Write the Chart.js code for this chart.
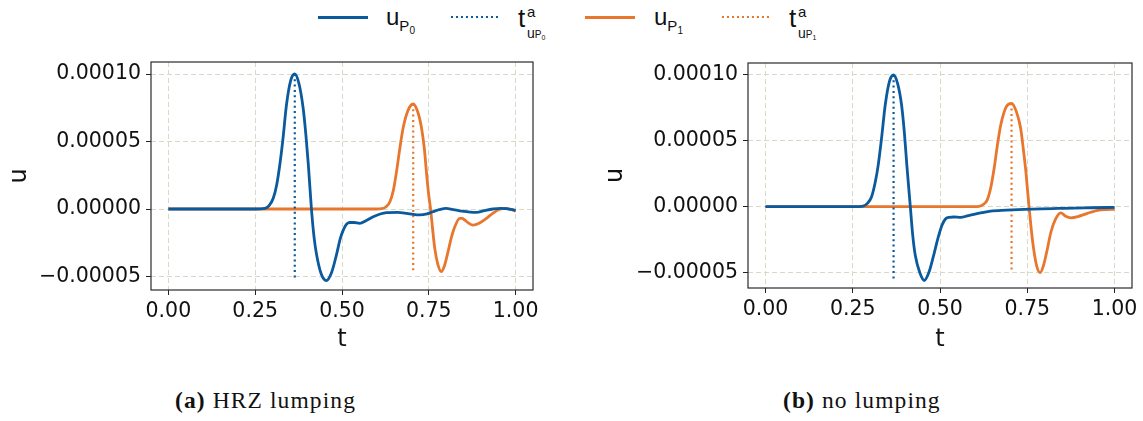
<!DOCTYPE html>
<html lang="en">
<head>
	<meta charset="utf-8">
	<title></title>
	<style>
body {
	margin: 0;
	width: 1143px;
	height: 421px;
	background: #fff;
	position: relative;
	overflow: hidden;
}
canvas { position: absolute; top: 0; }
#chartA { left: 0; }
#chartB { left: 590px; }
.key { position: absolute; top: 16px; width: 50px; height: 3px; }
.lbl { position: absolute; font-family: "Liberation Sans", sans-serif; color: #111; line-height: 1; white-space: nowrap; }
.big { font-size: 24px; }
.s1 { font-size: 15px; }
.s2 { font-size: 10px; }
.cap { position: absolute; top: 387px; font-family: "Liberation Serif", serif; font-size: 23.5px; letter-spacing: 1.1px; color: #111; white-space: nowrap; }
	</style>
</head>
<body>

<div class="key" style="left:318px; background:#0b5a9e"></div>
<div class="lbl" style="left:386px; top:5px"><span class="big">u</span><span class="s1" style="position:relative; top:6px">P</span><span class="s2" style="position:relative; top:9px">0</span></div>

<div class="key" style="left:451px; height:2px; background:repeating-linear-gradient(to right,#0b5a9e 0 2px,transparent 2px 5px)"></div>
<div class="lbl" style="left:518px; top:5px"><span style="font-size:26px">t</span></div>
<div class="lbl" style="left:527px; top:4px"><span class="s1">a</span></div>
<div class="lbl" style="left:527px; top:25px"><span style="font-size:14px">u</span><span class="s2">P</span><span style="font-size:7px; position:relative; top:2px">0</span></div>

<div class="key" style="left:585px; background:#e8762c"></div>
<div class="lbl" style="left:654px; top:5px"><span class="big">u</span><span class="s1" style="position:relative; top:6px">P</span><span class="s2" style="position:relative; top:9px">1</span></div>

<div class="key" style="left:722px; height:2px; background:repeating-linear-gradient(to right,#e8762c 0 2px,transparent 2px 5px)"></div>
<div class="lbl" style="left:789px; top:5px"><span style="font-size:26px">t</span></div>
<div class="lbl" style="left:798px; top:4px"><span class="s1">a</span></div>
<div class="lbl" style="left:798px; top:25px"><span style="font-size:14px">u</span><span class="s2">P</span><span style="font-size:7px; position:relative; top:2px">1</span></div>

<canvas id="chartA" width="560" height="360"></canvas>
<canvas id="chartB" width="553" height="360"></canvas>

<div class="cap" style="left:175px"><b>(a)</b> HRZ lumping</div>
<div class="cap" style="left:783px"><b>(b)</b> no lumping</div>

<script src="https://cdn.jsdelivr.net/npm/chart.js"></script>
<script>
// values of u are in units of 1e-5
const xTicks = [0, 0.25, 0.5, 0.75, 1];
const yTicks = [-5, 0, 5, 10];

// (a) HRZ lumping
const tA0 = [0, 0.1, 0.2, 0.25, 0.278, 0.29, 0.302, 0.312, 0.321, 0.33, 0.34, 0.352, 0.364, 0.376, 0.388, 0.396, 0.403, 0.412, 0.42, 0.427, 0.44, 0.455, 0.47, 0.484, 0.495, 0.503, 0.512, 0.522, 0.535, 0.551, 0.57, 0.59, 0.61, 0.628, 0.66, 0.686, 0.705, 0.724, 0.745, 0.762, 0.78, 0.8, 0.82, 0.839, 0.86, 0.887, 0.91, 0.935, 0.955, 0.973, 1.0];
const uA0 = [0, 0, 0, 0, 0.05, 0.25, 0.8, 1.8, 3.3, 5.2, 7.7, 9.5, 10.0, 9.3, 7.5, 5.5, 3.3, 0, -2.2, -3.4, -4.8, -5.3, -4.7, -3.4, -2.2, -1.6, -1.15, -1.0, -1.0, -1.06, -0.85, -0.57, -0.37, -0.27, -0.25, -0.32, -0.4, -0.44, -0.36, -0.2, -0.05, 0.05, -0.05, -0.13, -0.2, -0.25, -0.12, 0.0, 0.05, 0.03, -0.1];
const tA1 = [0, 0.2, 0.4, 0.6, 0.614, 0.626, 0.638, 0.648, 0.657, 0.666, 0.676, 0.69, 0.705, 0.718, 0.729, 0.737, 0.743, 0.749, 0.755, 0.761, 0.767, 0.776, 0.786, 0.795, 0.805, 0.815, 0.825, 0.839, 0.847, 0.853, 0.865, 0.877, 0.895, 0.916, 0.935, 0.954, 0.973, 1.0];
const uA1 = [0, 0, 0, 0, 0.02, 0.15, 0.54, 1.4, 2.77, 4.4, 6.0, 7.3, 7.78, 7.2, 6.0, 4.5, 2.77, 1.2, 0, -1.5, -2.9, -4.1, -4.64, -4.2, -3.2, -2.1, -1.3, -0.69, -0.7, -0.81, -1.05, -1.19, -1.05, -0.69, -0.3, -0.02, 0.05, -0.15];
const arrA0 = [0.364, 10.0, -5.26];   // t, top, bottom
const arrA1 = [0.705, 7.78, -4.64];

// (b) no lumping
const tB0 = [0, 0.2, 0.25, 0.28, 0.292, 0.304, 0.314, 0.323, 0.333, 0.343, 0.355, 0.367, 0.379, 0.39, 0.398, 0.405, 0.415, 0.422, 0.429, 0.442, 0.455, 0.468, 0.482, 0.494, 0.506, 0.515, 0.525, 0.54, 0.559, 0.578, 0.597, 0.62, 0.645, 0.69, 0.741, 0.79, 0.837, 0.885, 0.933, 1.0];
const uB0 = [0, 0, 0, 0.05, 0.25, 0.76, 1.8, 3.16, 5.3, 7.7, 9.5, 10.0, 9.3, 7.7, 5.6, 3.16, 0, -2.2, -3.67, -5.0, -5.6, -5.0, -3.67, -2.4, -1.39, -0.95, -0.81, -0.78, -0.81, -0.7, -0.58, -0.45, -0.33, -0.26, -0.2, -0.16, -0.13, -0.1, -0.08, -0.05];
const tB1 = [0, 0.2, 0.4, 0.6, 0.611, 0.623, 0.635, 0.645, 0.655, 0.664, 0.674, 0.69, 0.705, 0.719, 0.731, 0.739, 0.746, 0.755, 0.761, 0.768, 0.777, 0.787, 0.796, 0.806, 0.818, 0.832, 0.846, 0.86, 0.875, 0.895, 0.914, 0.932, 0.952, 0.975, 1.0];
const uB1 = [0, 0, 0, 0, 0.02, 0.15, 0.5, 1.4, 2.9, 4.6, 6.2, 7.6, 7.85, 7.2, 5.95, 4.3, 2.66, 0, -1.6, -3.16, -4.5, -5.0, -4.5, -3.4, -1.9, -0.89, -0.46, -0.72, -0.84, -0.75, -0.58, -0.42, -0.28, -0.22, -0.2];
const arrB0 = [0.367, 10.0, -5.57];
const arrB1 = [0.705, 7.85, -5.0];

const BLUE = '#0b5a9e';
const ORANGE = '#e8762c';

function pts(ts, us) {
	return ts.map((t, i) => ({x: t, y: us[i]}));
}

function lineSet(ts, us, color) {
	return {data: pts(ts, us), borderColor: color, borderWidth: 2.8, pointRadius: 0, cubicInterpolationMode: 'monotone'};
}

function arrivalSet(a, color) {
	return {data: [{x: a[0], y: a[1]}, {x: a[0], y: a[2]}], borderColor: color, borderWidth: 2.2, borderDash: [2, 3.3], pointRadius: 0, tension: 0};
}

const frame = {
	id: 'frame',
	afterDraw(chart) {
		const a = chart.chartArea, ctx = chart.ctx;
		ctx.save();
		ctx.strokeStyle = '#2a2a2a';
		ctx.lineWidth = 1.2;
		ctx.strokeRect(a.left, a.top, a.right - a.left, a.bottom - a.top);
		ctx.restore();
	}
};

function makeChart(id, sets, o) {
	const tickFont = {family: 'DejaVu Sans', size: 20.5};
	const titleFont = {family: 'DejaVu Sans', size: 24};
	new Chart(document.getElementById(id), {
		type: 'line',
		data: {datasets: sets},
		plugins: [frame],
		options: {
			responsive: false,
			animation: false,
			layout: {padding: {top: o.top, right: o.right, left: 0, bottom: 0}},
			plugins: {legend: {display: false}, tooltip: {enabled: false}},
			scales: {
				x: {
					type: 'linear', min: -0.05, max: 1.05,
					afterBuildTicks: s => { s.ticks = xTicks.map(v => ({value: v})); },
					afterFit: s => { s.height = o.xh; },
					ticks: {font: tickFont, color: '#111', padding: 4, maxRotation: 0, autoSkip: false, callback: v => v.toFixed(2)},
					grid: {color: '#d9d9c8', tickColor: '#222', tickLength: 5, lineWidth: 1},
					border: {display: false, dash: [5, 3]},
					title: {display: true, text: 't', font: titleFont, color: '#111', padding: {top: 0, bottom: 6}}
				},
				y: {
					type: 'linear', min: o.ymin, max: o.ymax,
					afterBuildTicks: s => { s.ticks = yTicks.map(v => ({value: v})); },
					afterFit: s => { s.width = o.yw; },
					ticks: {font: tickFont, color: '#111', padding: 5, autoSkip: false,
						callback: v => (v < 0 ? '\u2212' : '') + (Math.abs(v) / 1e5).toFixed(5)},
					grid: {color: '#d9d9c8', tickColor: '#222', tickLength: 5, lineWidth: 1},
					border: {display: false, dash: [5, 3]},
					title: {display: true, text: 'u', font: titleFont, color: '#111', padding: {top: o.ytp, bottom: 0}}
				}
			}
		}
	});
}

makeChart('chartA', [
	lineSet(tA0, uA0, BLUE), arrivalSet(arrA0, BLUE),
	lineSet(tA1, uA1, ORANGE), arrivalSet(arrA1, ORANGE)
], {top: 62, right: 27, xh: 70, yw: 151, ymin: -6.0, ymax: 10.89, ytp: 5});

makeChart('chartB', [
	lineSet(tB0, uB0, BLUE), arrivalSet(arrB0, BLUE),
	lineSet(tB1, uB1, ORANGE), arrivalSet(arrB1, ORANGE)
], {top: 63, right: 11, xh: 72, yw: 158, ymin: -6.17, ymax: 10.91, ytp: 11});
</script>
</body>
</html>
